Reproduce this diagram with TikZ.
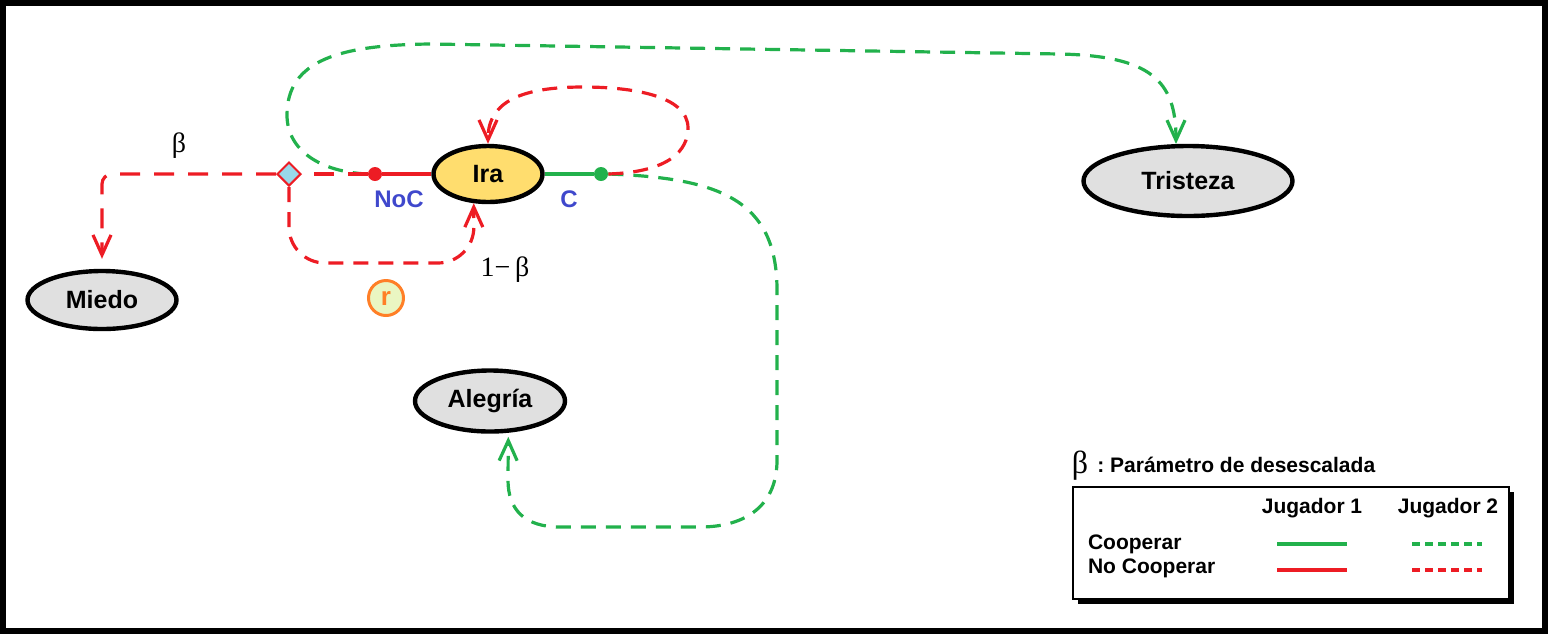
\documentclass[tikz,border=0pt]{standalone}
\usepackage{fontspec}
\setmainfont{Liberation Sans}
\newfontfamily\grk{Liberation Serif}
\usetikzlibrary{arrows.meta,shapes.geometric,shadows}

\definecolor{rojo}{HTML}{ED1C24}
\definecolor{verde}{HTML}{22B14C}
\definecolor{azul}{HTML}{3F48CC}
\definecolor{naranja}{HTML}{FF7F27}
\definecolor{irafill}{HTML}{FFDD6E}
\definecolor{grisfill}{HTML}{E0E0E0}
\definecolor{celeste}{HTML}{99D9EA}
\definecolor{limon}{HTML}{EAF6C2}

\begin{document}
\begin{tikzpicture}[x=0.5pt,y=-0.5pt,
  emo/.style={ellipse, draw=black, line width=2.2pt, fill=grisfill, inner sep=0pt,
              font=\fontsize{12.5}{14}\selectfont\bfseries},
  punto/.style={circle, inner sep=0pt, minimum size=7pt},
  solido/.style={line width=1.6pt},
  trazos/.style={line width=1.6pt, dash pattern=on 7.5pt off 5pt},
  larga/.style={line width=1.6pt, dash pattern=on 10pt off 7pt},
  leyt/.style={line width=1.6pt, dash pattern=on 4pt off 2.5pt},
  flecha/.style={-{Straight Barb[length=10pt,width=9pt]}},
  etiq/.style={text=azul, font=\fontsize{12}{14}\selectfont\bfseries},
  griego/.style={font=\grk\fontsize{14}{16}\selectfont},
  ley/.style={font=\fontsize{10.5}{12}\selectfont\bfseries},
  ]
\useasboundingbox (0,0) rectangle (1548,634);
\draw[line width=2.75pt] (2.75,2.75) rectangle (1545,631);

% emociones
\node[emo, fill=irafill, minimum width=54.5pt, minimum height=28pt] (ira) at (488,174) {Ira};
\node[emo, minimum width=104.5pt, minimum height=35pt] (tri) at (1188,181) {Tristeza};
\node[emo, minimum width=74.5pt, minimum height=29pt] (miedo) at (102,300) {Miedo};
\node[emo, minimum width=75pt, minimum height=30.5pt] (aleg) at (490,401) {Alegría};

% decisiones
\node[punto, fill=rojo] (noc) at (375,174) {};
\node[punto, fill=verde] (coop) at (601,174) {};
\node[diamond, draw=rojo, fill=celeste, line width=1pt, inner sep=0pt, minimum size=12pt] (dia) at (289,174) {};
\node[circle, draw=naranja, fill=limon, line width=1.5pt, minimum size=17.5pt, inner sep=0pt,
      text=naranja, font=\fontsize{13}{14}\selectfont\bfseries] (r) at (386,298) {r};

\node[etiq] (lnoc) at (399,199) {NoC};
\node[etiq] (lc) at (569,199) {C};
\node[griego] (lb) at (179,146) {β};
\node[griego] (l1b) at (505,270) {1−\,β};

% jugador 1
\draw[solido, rojo] (ira) -- (noc);
\draw[solido, verde] (ira) -- (coop);

% jugador 2
\draw[trazos, verde, flecha] (noc.west) .. controls (320,172) and (287,150) .. (287,115)
  .. controls (287,60) and (340,45) .. (430,44) -- (1060,54)
  .. controls (1150,56) and (1176,80) .. (tri.108);
\draw[trazos, verde, flecha, shorten >=2pt] (coop.east) .. controls (720,178) and (777,200) .. (777,290)
  -- (777,460) .. controls (777,510) and (740,527) .. (700,527) -- (560,527)
  .. controls (525,527) and (508,510) .. (508,480) -- (aleg.300);
\draw[trazos, rojo, flecha] (coop.east) .. controls (670,172) and (688,150) .. (688,128)
  .. controls (688,95) and (630,87) .. (583,87) .. controls (525,87) and (488,100) .. (ira.north);
\draw[larga, rojo] (noc) -- (dia);
\draw[larga, rojo, flecha, rounded corners=5pt, shorten >=5pt] (dia.west) -| (miedo.north);
\draw[trazos, rojo, flecha] (dia.south) [rounded corners=18pt] |- (474,263) [rounded corners=10pt] -- (ira.244);

% leyenda
\node[griego, font=\grk\fontsize{16}{18}\selectfont] (lbeta) at (1080,466) {β};
\node[ley, anchor=west, inner sep=0pt] (ltit) at (1097,465) {:\ Parámetro de desescalada};
\node[draw, line width=0.75pt, fill=white, minimum width=218pt, minimum height=56pt,
      drop shadow={shadow xshift=2.5pt, shadow yshift=-2.5pt, opacity=1, fill=black}] (legbox) at (1291,543) {};
\node[ley] (jug1) at (1312,508) {Jugador 1};
\node[ley] (jug2) at (1448,508) {Jugador 2};
\node[ley, anchor=west] (lcoop) at (1081,544) {Cooperar};
\node[ley, anchor=west] (lnocoop) at (1081,568) {No Cooperar};
\draw[solido, verde] (1277,544) -- (1347,544);
\draw[solido, rojo] (1277,570) -- (1347,570);
\draw[leyt, verde] (1412,544) -- (1482,544);
\draw[leyt, rojo] (1412,570) -- (1482,570);
\end{tikzpicture}
\end{document}
